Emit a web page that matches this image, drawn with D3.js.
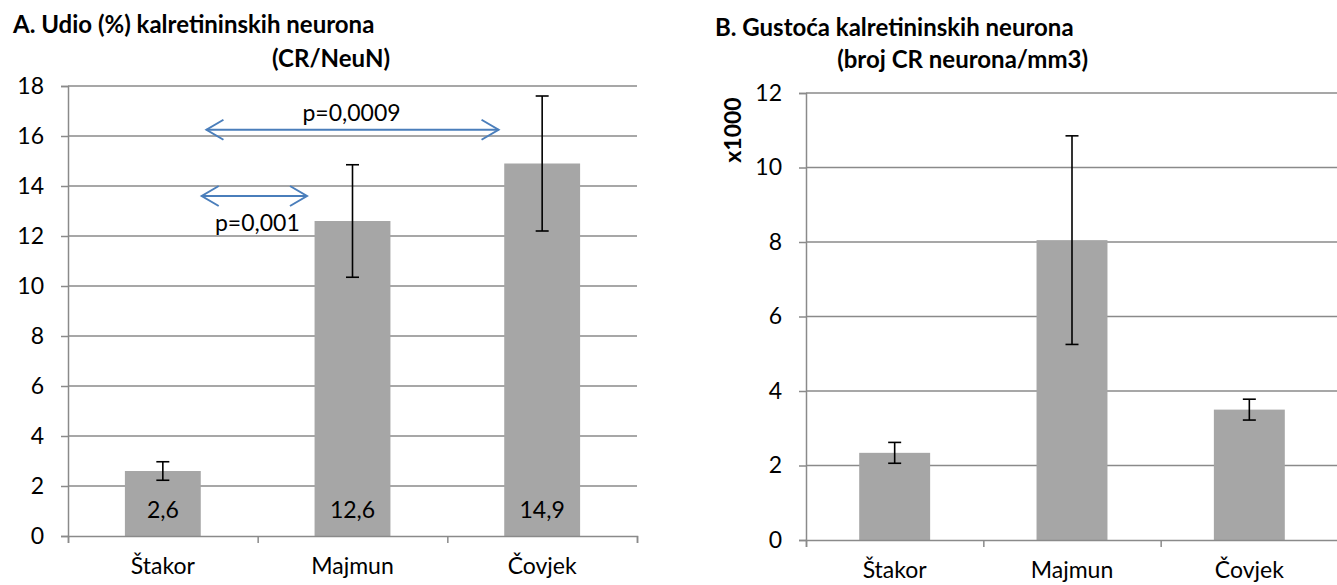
<!DOCTYPE html>
<html>
<head>
<meta charset="utf-8">
<script src="https://cdn.jsdelivr.net/npm/d3@7"></script>
<style>
  html, body { margin: 0; padding: 0; background: #fff; }
  svg { display: block; font-family: Lato, "Open Sans", sans-serif; }
</style>
</head>
<body>
<svg id="chart" width="1337" height="585"></svg>
<script>
// ---------- data ----------
const categories = ["Štakor", "Majmun", "Čovjek"];

// Chart A: proportion (%) of calretinin neurons (CR/NeuN)
const shareValues = [2.6, 12.6, 14.9];
const shareErrors = [0.37, 2.25, 2.7];
const shareLabels = ["2,6", "12,6", "14,9"];
const shareTicks = [0, 2, 4, 6, 8, 10, 12, 14, 16, 18];

// Chart B: density (x1000 CR neurons / mm3)
const densityValues = [2.34, 8.05, 3.5];
const densityErrors = [0.28, 2.8, 0.28];
const densityTicks = [0, 2, 4, 6, 8, 10, 12];

// significance annotations for chart A (positions in category-index units, y in data units)
const sigFrom = [0.73, 0.705];
const sigTo = [2.27, 1.26];
const sigY = [16.25, 13.6];
const sigText = ["p=0,0009", "p=0,001"];
const sigTextY = [16.6, 12.2];

// ---------- styles ----------
const GRID = "#8a8a8a";
const BAR = "#a6a6a6";
const ARROW = "#4a7ebb";
const FS = 23;

const svg = d3.select("#chart");

function drawPanel(opts) {
  const g = svg.append("g");
  const x = d3.scaleBand().domain(categories).range([opts.left, opts.right])
    .paddingInner(0.6).paddingOuter(0.3);
  const xi = d3.scaleLinear().domain([0, categories.length]).range([opts.left, opts.right]);
  const y = d3.scaleLinear().domain([0, opts.max]).range([opts.bottom, opts.top]);

  // gridlines
  g.append("g").selectAll("line").data(opts.ticks.filter(d => d > 0)).join("line")
    .attr("x1", opts.left).attr("x2", opts.right)
    .attr("y1", d => y(d)).attr("y2", d => y(d))
    .attr("stroke", GRID).attr("stroke-width", 1.5);

  // y axis
  const ya = g.append("g").attr("transform", `translate(${opts.left},0)`)
    .call(d3.axisLeft(y).tickValues(opts.ticks).tickSize(7).tickPadding(17).tickFormat(d3.format("d")));
  ya.select(".domain").attr("stroke", GRID).attr("stroke-width", 1.5);
  ya.selectAll(".tick line").attr("stroke", GRID).attr("stroke-width", 1.5);
  ya.selectAll(".tick text").attr("font-size", FS).attr("fill", "#000")
    .attr("font-family", "Lato, 'Open Sans', sans-serif");

  // bars
  g.append("g").selectAll("rect").data(opts.values).join("rect")
    .attr("x", (d, i) => x(categories[i]))
    .attr("width", x.bandwidth())
    .attr("y", d => y(d))
    .attr("height", d => y(0) - y(d))
    .attr("fill", BAR);

  // x axis (boundary ticks)
  const xa = g.append("g").attr("transform", `translate(0,${opts.bottom})`)
    .call(d3.axisBottom(xi).tickValues(d3.range(categories.length + 1)).tickSize(7).tickFormat(""));
  xa.select(".domain").attr("stroke", GRID).attr("stroke-width", 1.5);
  xa.selectAll(".tick line").attr("stroke", GRID).attr("stroke-width", 1.5);

  // category labels
  g.append("g").selectAll("text").data(categories).join("text")
    .attr("x", d => x(d) + x.bandwidth() / 2)
    .attr("y", opts.bottom + 38)
    .attr("text-anchor", "middle").attr("font-size", FS).text(d => d);

  // error bars
  const eb = g.append("g").attr("stroke", "#000").attr("stroke-width", 1.6);
  opts.values.forEach((v, i) => {
    const cx = x(categories[i]) + x.bandwidth() / 2;
    const e = opts.errors[i];
    eb.append("line").attr("x1", cx).attr("x2", cx).attr("y1", y(v + e)).attr("y2", y(v - e));
    eb.append("line").attr("x1", cx - 6.5).attr("x2", cx + 6.5).attr("y1", y(v + e)).attr("y2", y(v + e));
    eb.append("line").attr("x1", cx - 6.5).attr("x2", cx + 6.5).attr("y1", y(v - e)).attr("y2", y(v - e));
  });

  return { g, x, xi, y };
}

// ---------- Panel A ----------
const A = drawPanel({ left: 68, right: 637, top: 86, bottom: 536, max: 18,
  ticks: shareTicks, values: shareValues, errors: shareErrors });

A.g.append("g").selectAll("text").data(shareLabels).join("text")
  .attr("x", (d, i) => A.x(categories[i]) + A.x.bandwidth() / 2)
  .attr("y", 518)
  .attr("text-anchor", "middle").attr("font-size", FS).text(d => d);

// significance arrows
sigY.forEach((yv, i) => {
  const x1 = A.xi(sigFrom[i]), x2 = A.xi(sigTo[i]), yy = A.y(yv);
  const ag = A.g.append("g").attr("stroke", ARROW).attr("stroke-width", 2).attr("fill", "none");
  ag.append("line").attr("x1", x1).attr("x2", x2).attr("y1", yy).attr("y2", yy);
  ag.append("path").attr("d", `M${x1 + 17},${yy - 10}L${x1},${yy}L${x1 + 17},${yy + 10}`);
  ag.append("path").attr("d", `M${x2 - 17},${yy - 10}L${x2},${yy}L${x2 - 17},${yy + 10}`);
  A.g.append("text")
    .attr("x", (x1 + x2) / 2 + (i === 0 ? -1 : 3))
    .attr("y", A.y(sigTextY[i]))
    .attr("text-anchor", "middle").attr("font-size", FS).text(sigText[i]);
});

// titles
svg.append("text").attr("x", 13).attr("y", 33).attr("font-size", 24).attr("font-weight", "bold")
  .text("A. Udio (%) kalretininskih neurona");
svg.append("text").attr("x", 390).attr("y", 67).attr("text-anchor", "end")
  .attr("font-size", 24).attr("font-weight", "bold").text("(CR/NeuN)");

// ---------- Panel B ----------
const B = drawPanel({ left: 806, right: 1338, top: 93, bottom: 540, max: 12,
  ticks: densityTicks, values: densityValues, errors: densityErrors });

svg.append("text").attr("x", 715).attr("y", 36).attr("font-size", 24).attr("font-weight", "bold")
  .text("B. Gustoća kalretininskih neurona");
svg.append("text").attr("x", 1088).attr("y", 68).attr("text-anchor", "end")
  .attr("font-size", 24).attr("font-weight", "bold").text("(broj CR neurona/mm3)");

svg.append("text").attr("transform", "translate(741,130) rotate(-90)")
  .attr("text-anchor", "middle").attr("font-size", 23).attr("font-weight", "bold").text("x1000");
</script>
</body>
</html>
